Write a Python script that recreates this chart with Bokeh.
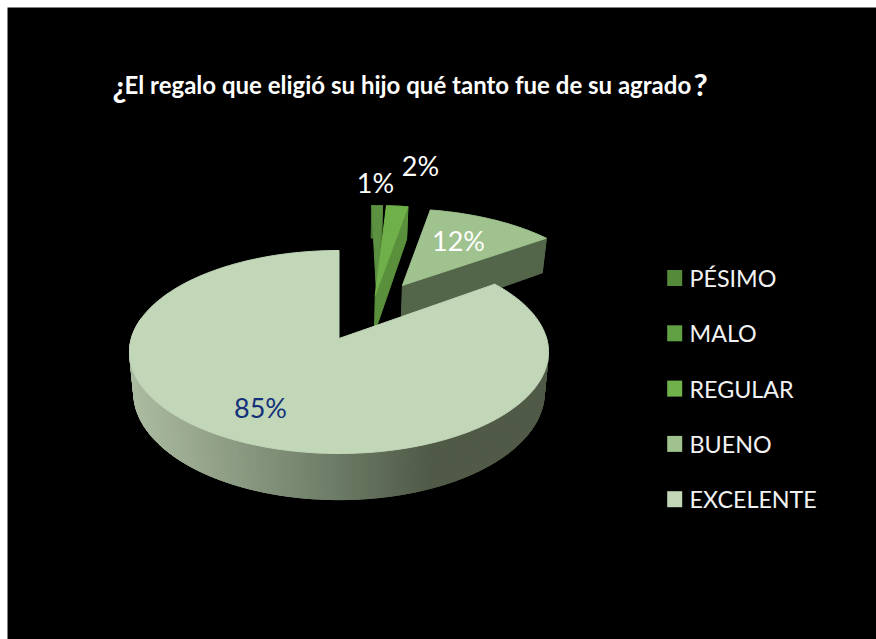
import math
from bokeh.plotting import figure
from bokeh.core.properties import value
from bokeh.embed import file_html
from bokeh.resources import INLINE

categories = ["PÉSIMO", "MALO", "REGULAR", "BUENO", "EXCELENTE"]
percents = [0, 1, 2, 12, 85]
labels = ["", "1%", "2%", "12%", "85%"]
top_colors = ["#558a3a", "#5b9140", "#6fb04a", "#9fc28f", "#c2d6b8"]
legend_colors = ["#558a3a", "#62a044", "#70b14c", "#9fc28f", "#c2d6b8"]
wall_colors = ["#4c7a34", "#4c7a34", "#5a8f3c", "#54664a", "#505a47"]
label_colors = ["#ffffff", "#ffffff", "#ffffff", "#ffffff", "#13307a"]
label_pos = [(0, 0), (375, 182), (420, 165), (458, 240), (260, 407)]
nudge_u = [0, 0.032, 0.024, 0.017, 0]
apex_nudge_u = [0, 0, -0.03, -0.015, 0]
apex_drop_v = [0, 0.16, 0.16, 0, 0]
front_wall_stops = [(125, (0xad, 0xbd, 0xa2)), (340, (0x6b, 0x7a, 0x64)), (430, (0x50, 0x5a, 0x47)), (560, (0x50, 0x5a, 0x47))]

W, H = 876, 639
MARGIN = 7
OX, OY = 338.5, 338    # apex of the largest slice, page px
RX, KY, PERSP = 207.6, 99.7, 0.133
EXPLODE, DEPTH, SHRINK = 0.33, 40, 0.98

p = figure(width=W, height=H, x_range=(MARGIN, W), y_range=(H, MARGIN), toolbar_location=None,
           output_backend="svg", background_fill_color="black", border_fill_color="white",
           min_border=0, min_border_left=MARGIN, min_border_top=MARGIN, outline_line_color=None)
p.axis.visible = False
p.grid.visible = False


def proj(u, v, low=False):
    s = 1 / (1 - PERSP * v)
    x = OX + RX * u * s
    y = OY + KY * v * s
    if low:
        x = OX + (x - OX) * SHRINK
        y += DEPTH * s
    return x, y


def direction(deg):
    a = math.radians(deg)
    return math.sin(a), -math.cos(a)


total = sum(percents)
spans, acc = [], 0.0
for pct in percents:
    start = acc
    acc += pct / total * 360
    spans.append((start, acc))
exc_dir = direction(sum(spans[-1]) / 2)


def offset(i):
    d = direction(sum(spans[i]) / 2)
    return EXPLODE * (d[0] - exc_dir[0]) + nudge_u[i], EXPLODE * (d[1] - exc_dir[1])


def arc(i, a0, a1, low=False, n=120):
    du, dv = offset(i)
    pts = []
    for k in range(n + 1):
        d = direction(a0 + (a1 - a0) * k / n)
        pts.append(proj(du + d[0], dv + d[1], low))
    return pts


def poly(pts, color):
    p.patch([q[0] for q in pts], [q[1] for q in pts], fill_color=color, line_color=color, line_width=1)


def gradient(x):
    for (x0, c0), (x1, c1) in zip(front_wall_stops, front_wall_stops[1:]):
        if x <= x1:
            t = max(0, (x - x0) / (x1 - x0))
            return "#%02x%02x%02x" % tuple(round(a + (b - a) * t) for a, b in zip(c0, c1))
    return "#505a47"


# small and medium slices, back to front
for i in (1, 2, 3):
    a0, a1 = spans[i]
    du, dv = offset(i)
    du += apex_nudge_u[i]
    dv += apex_drop_v[i]
    apex_t, apex_b = proj(du, dv), proj(du, dv, True)
    top = arc(i, a0, a1)
    bot = arc(i, a0, a1, True)
    poly([apex_t, top[-1], bot[-1], apex_b], wall_colors[i])   # radial wall
    poly(top + bot[::-1], wall_colors[i])                       # outer wall
    poly([apex_t] + top, top_colors[i])

# largest slice: outer wall with a horizontal gradient, then its face
i = 4
a0, a1 = spans[i]
du, dv = offset(i)
steps = 150
top = arc(i, 88, 282, n=steps)
bot = arc(i, 88, 282, True, n=steps)
xs_order = sorted(range(steps), key=lambda k: -(top[k][0] + top[k + 1][0]))
for k in xs_order:
    c = gradient((top[k][0] + top[k + 1][0]) / 2)
    j = min(k + 2, steps)
    poly(top[k:j + 1] + bot[k:j + 1][::-1], c)
poly([proj(du, dv)] + arc(i, a0, a1, n=240), top_colors[i])

# data labels
for txt, (lx, ly), col in zip(labels, label_pos, label_colors):
    if txt:
        p.text([lx], [ly], text=[txt], text_font=value("Lato"), text_font_size="27px",
               text_color=col, text_align="center", text_baseline="middle")

# legend
for k, (name, col) in enumerate(zip(categories, legend_colors)):
    y = 277.5 + 55.3 * k
    p.rect([674.2], [y], width=15, height=16, fill_color=col, line_color=None)
    p.text([689], [y], text=[name], text_font=value("Lato"), text_font_size="23.3px",
           text_color="#f2f2f2", text_align="left", text_baseline="middle")

# title
p.text([112], [85], text=["¿"], text_font=value("Lato"), text_font_style="bold", text_font_size="31px",
       text_color="white", text_baseline="middle")
p.text([124], [84], text=["El regalo que eligió su hijo qué tanto fue de su agrado"], text_font=value("Lato"),
       text_font_style="bold", text_font_size="24px", text_color="white", text_baseline="middle")
p.text([693], [83], text=["?"], text_font=value("Lato"), text_font_style="bold", text_font_size="31px",
       text_color="white", text_baseline="middle")

open("out.html", "w").write(file_html(p, INLINE))
